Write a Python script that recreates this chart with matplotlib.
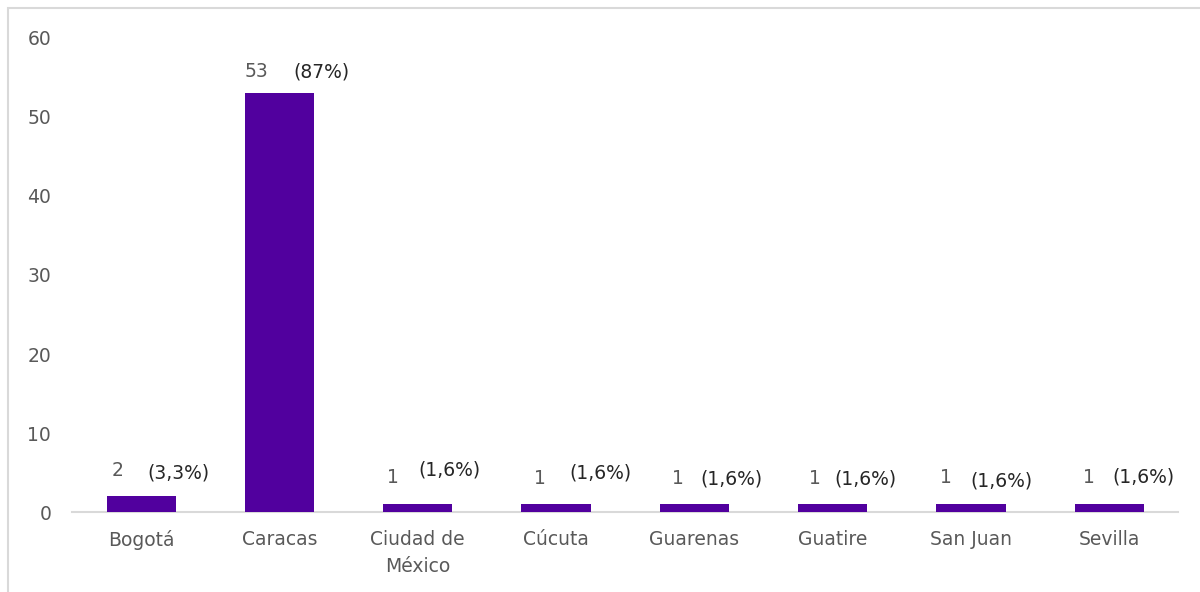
import matplotlib.pyplot as plt
from matplotlib.patches import Rectangle

plt.rcParams['font.family'] = ['DejaVu Sans']

ciudades = ['Bogotá', 'Caracas', 'Ciudad de\nMéxico', 'Cúcuta', 'Guarenas',
            'Guatire', 'San Juan', 'Sevilla']
cantidad = [2, 53, 1, 1, 1, 1, 1, 1]
porcentaje = ['(3,3%)', '(87%)', '(1,6%)', '(1,6%)', '(1,6%)', '(1,6%)', '(1,6%)', '(1,6%)']
# placement of the labels above each bar (x in category units, y in data units)
dx_val = [-0.17, -0.17, -0.18, -0.12, -0.12, -0.13, -0.18, -0.15]
dy_val = [3.3, 2.7, 3.4, 3.2, 3.2, 3.2, 3.4, 3.4]
dx_pct = [0.27, 0.30, 0.23, 0.32, 0.27, 0.24, 0.22, 0.25]
dy_pct = [2.9, 2.7, 4.3, 3.9, 3.2, 3.2, 2.9, 3.5]

color_barra = '#51009E'
gris = '#595959'

fig = plt.figure(figsize=(12, 5.92), dpi=100)
fig.patches.append(Rectangle((8 / 1200, -0.01), 1.2, 1 - 8 / 592 + 0.01,
                             transform=fig.transFigure, fill=False,
                             edgecolor='#D9D9D9', linewidth=1.5))

ax = fig.add_axes([0.06, 0.135, 0.922, 0.801])
x = range(len(ciudades))
ax.bar(x, cantidad, width=0.5, color=color_barra, zorder=3)

for i, (v, p) in enumerate(zip(cantidad, porcentaje)):
    ax.text(i + dx_val[i], v + dy_val[i], str(v), ha='center', va='center',
            fontsize=13.5, color=gris)
    ax.text(i + dx_pct[i], v + dy_pct[i], p, ha='center', va='center',
            fontsize=13.5, color='#262626')

ax.set_xlim(-0.5, len(ciudades) - 0.5)
ax.set_ylim(0, 60)
ax.set_yticks(range(0, 61, 10))
ax.set_xticks(list(x))
ax.set_xticklabels(ciudades, fontsize=13.5, color=gris, linespacing=1.5)
ax.tick_params(axis='y', labelsize=13.5, labelcolor=gris, length=0, pad=15)
ax.tick_params(axis='x', length=0, pad=13)

for lado in ['top', 'right', 'left']:
    ax.spines[lado].set_visible(False)
ax.spines['bottom'].set_color('#D9D9D9')
ax.spines['bottom'].set_linewidth(1.5)

fig.savefig('out.png', dpi=100)
